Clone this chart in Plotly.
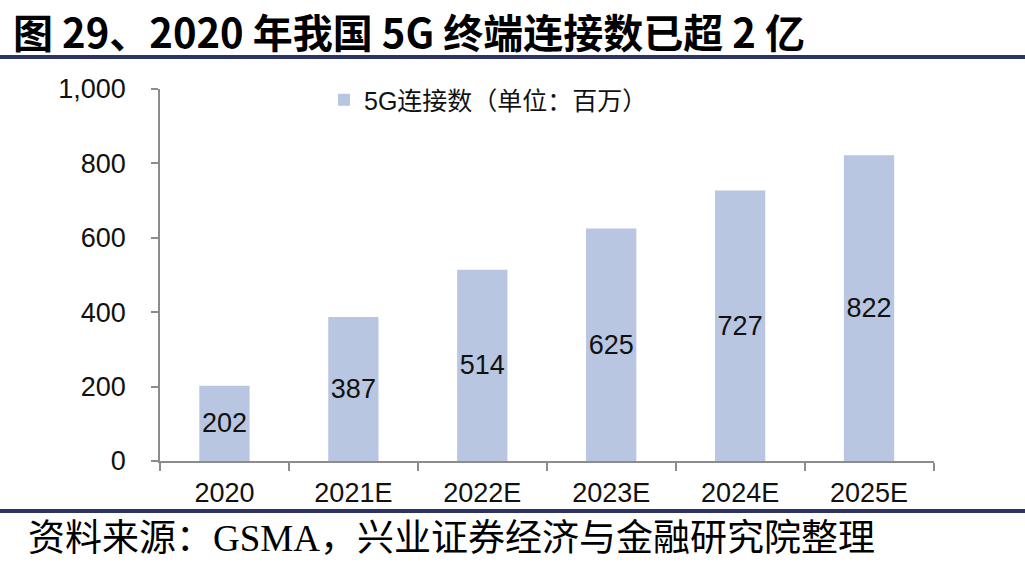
import plotly.graph_objects as go

categories = ["2020", "2021E", "2022E", "2023E", "2024E", "2025E"]
values = [202, 387, 514, 625, 727, 822]
series_name = "5G连接数（单位：百万）"
y_ticks = [0, 200, 400, 600, 800, 1000]
title_text = "图 29、2020 年我国 5G 终端连接数已超 2 亿"
source_text = "资料来源：GSMA，兴业证券经济与金融研究院整理"

W, H = 1025, 570
def px_x(x): return x / W
def px_y(y): return (H - y) / H

fig = go.Figure()
fig.add_trace(go.Bar(
    x=categories, y=values, name=series_name,
    marker=dict(color="#B9C6E1", line=dict(width=0)),
    text=[str(v) for v in values], textposition="inside",
    insidetextanchor="middle", textangle=0, constraintext="none",
    textfont=dict(family="Liberation Sans, Arial", size=27, color="#111111"),
    width=0.39, showlegend=True,
))

axis_color = "#8C8C8C"
fig.update_layout(
    width=W, height=H,
    margin=dict(l=0, r=0, t=0, b=0, autoexpand=False),
    paper_bgcolor="white", plot_bgcolor="white",
    font=dict(family="Liberation Sans, Arial, Noto Sans CJK SC", color="#111111"),
    xaxis=dict(
        domain=[px_x(160), px_x(933.5)],
        showline=True, linecolor=axis_color, linewidth=1.5,
        ticks="outside", tickson="boundaries", ticklen=8, tickcolor=axis_color, tickwidth=1.5,
        tickfont=dict(size=27, family="Liberation Sans, Arial"),
        ticklabelstandoff=7,
        showgrid=False, zeroline=False, fixedrange=True,
    ),
    yaxis=dict(
        domain=[px_y(461), px_y(89)],
        range=[0, 1000],
        tickvals=y_ticks, tickformat=",",
        showline=True, linecolor=axis_color, linewidth=1.5,
        ticks="outside", ticklen=7, tickcolor=axis_color, tickwidth=1.5,
        tickfont=dict(size=27, family="Liberation Sans, Arial"),
        ticklabelstandoff=20,
        showgrid=False, zeroline=False, fixedrange=True,
    ),
    legend=dict(
        x=px_x(324), y=px_y(100), xanchor="left", yanchor="middle",
        bgcolor="rgba(0,0,0,0)",
        font=dict(size=25, family="Liberation Sans, Noto Sans CJK SC"),
        itemwidth=30,
    ),
    showlegend=True,
    shapes=[
        dict(type="line", xref="paper", yref="paper", x0=0, x1=1,
             y0=px_y(57), y1=px_y(57), line=dict(color="#2E3366", width=4)),
        dict(type="line", xref="paper", yref="paper", x0=0, x1=1,
             y0=px_y(511), y1=px_y(511), line=dict(color="#2E3366", width=4)),
    ],
    annotations=[
        dict(text=title_text, xref="paper", yref="paper", x=px_x(12), y=0.999,
             xanchor="left", yanchor="top", showarrow=False, borderpad=0,
             font=dict(family="Noto Sans CJK SC", size=40, color="#000000", weight=700)),
        dict(text=source_text, xref="paper", yref="paper", x=px_x(26), y=px_y(538),
             xanchor="left", yanchor="middle", showarrow=False,
             font=dict(family="Liberation Serif, Noto Sans CJK SC", size=37, color="#000000")),
    ],
)

fig.write_html("out.html")
